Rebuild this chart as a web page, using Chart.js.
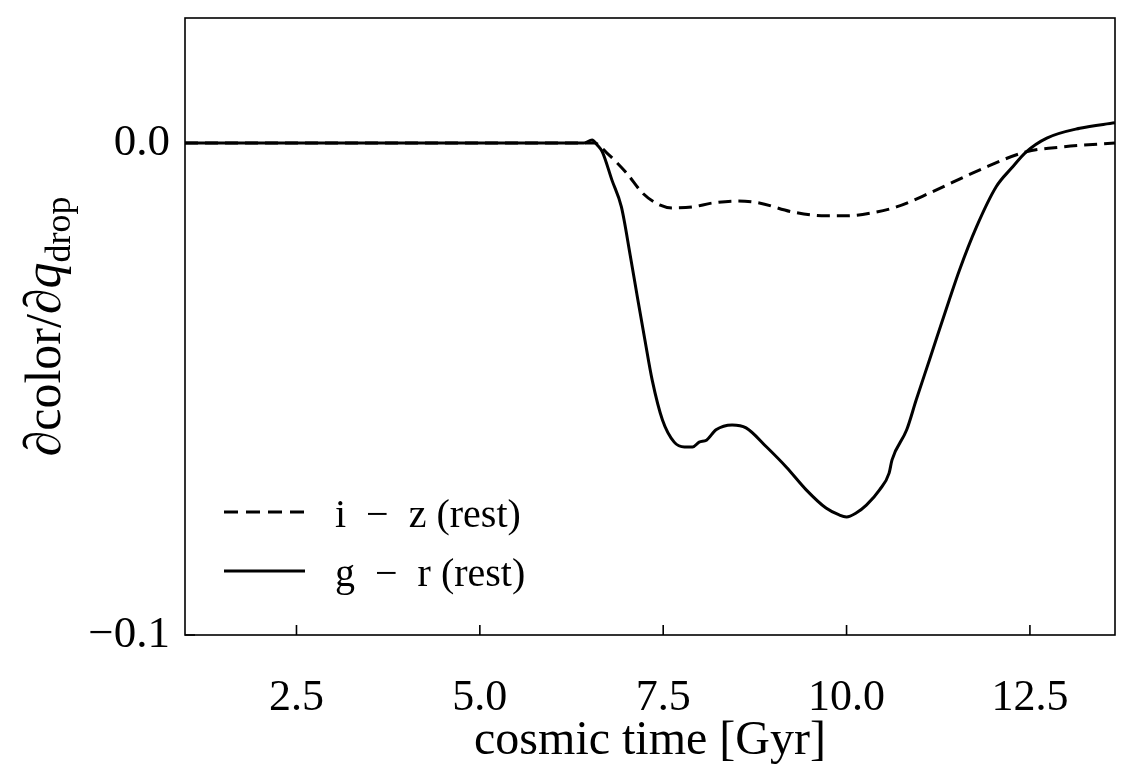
<!DOCTYPE html>
<html>
<head>
<meta charset="utf-8">
<script src="https://cdn.jsdelivr.net/npm/chart.js@4"></script>
<style>
  html, body { margin: 0; padding: 0; background: #fff; }
  canvas { display: block; }
</style>
</head>
<body>
<canvas id="colorChart" width="1136" height="770"></canvas>
<script>
// cosmic time [Gyr] and d(color)/d(q_drop)
const grTime = [0.98, 2.0, 3.0, 4.0, 5.0, 6.0, 6.42, 6.53, 6.60, 6.67, 6.80, 6.93, 7.05, 7.15, 7.25, 7.35, 7.49, 7.65, 7.79, 7.90, 7.99, 8.09, 8.22, 8.44, 8.63, 8.91, 9.18, 9.45, 9.72, 9.90, 10.0, 10.13, 10.27, 10.45, 10.58, 10.62, 10.82, 10.95, 11.13, 11.40, 11.54, 11.77, 12.04, 12.25, 12.45, 12.73, 13.18, 13.66];
const grValues = [0, 0, 0, 0, 0, 0, 0, 0.0006, -0.0004, -0.0018, -0.0075, -0.0130, -0.0228, -0.0315, -0.0400, -0.0482, -0.0563, -0.0608, -0.0618, -0.0618, -0.0608, -0.0604, -0.0583, -0.0573, -0.0579, -0.0618, -0.0659, -0.0705, -0.0742, -0.0756, -0.0760, -0.0752, -0.0736, -0.0705, -0.0671, -0.0644, -0.0583, -0.0522, -0.0441, -0.0319, -0.0258, -0.0171, -0.0089, -0.0051, -0.0018, 0.0010, 0.0030, 0.0041];

const izTime = [0.98, 3.0, 6.0, 6.56, 6.73, 7.0, 7.22, 7.45, 7.62, 7.90, 8.17, 8.50, 8.81, 9.26, 9.72, 10.0, 10.35, 10.68, 11.13, 11.81, 12.45, 12.94, 13.66];
const izValues = [0, 0, 0, 0, -0.0020, -0.0061, -0.0102, -0.0126, -0.0132, -0.0130, -0.0122, -0.0118, -0.0122, -0.0140, -0.0148, -0.0148, -0.0142, -0.0130, -0.0102, -0.0055, -0.0018, -0.0008, 0];

const xTicks = [2.5, 5.0, 7.5, 10.0, 12.5];
const yTicks = [-0.1, 0.0];
const seriesLabels = ['i \u2212 z (rest)', 'g \u2212 r (rest)'];

const serif = "'Liberation Serif', 'DejaVu Serif', serif";

const toPoints = (xs, ys) => xs.map((x, i) => ({ x: x, y: ys[i] }));

// frame + inward ticks, matplotlib style
const framePlugin = {
    id: 'frame',
    afterDatasetsDraw(chart) {
        const { ctx, chartArea: a, scales } = chart;
        ctx.save();
        ctx.strokeStyle = '#000';
        ctx.lineWidth = 1.6;
        ctx.strokeRect(a.left, a.top, a.right - a.left, a.bottom - a.top);
        ctx.beginPath();
        xTicks.forEach(v => {
            const px = scales.x.getPixelForValue(v);
            ctx.moveTo(px, a.bottom);
            ctx.lineTo(px, a.bottom - 10);
        });
        yTicks.forEach(v => {
            const py = scales.y.getPixelForValue(v);
            ctx.moveTo(a.left, py);
            ctx.lineTo(a.left + 10, py);
        });
        ctx.stroke();
        ctx.restore();
    }
};

// legend at lower left
const legendPlugin = {
    id: 'lineLegend',
    afterDatasetsDraw(chart) {
        const { ctx, chartArea: a } = chart;
        const rows = [a.top + 494, a.top + 553];
        ctx.save();
        ctx.strokeStyle = '#000';
        ctx.fillStyle = '#000';
        ctx.lineWidth = 3;
        ctx.font = '40px ' + serif;
        ctx.textBaseline = 'middle';
        chart.data.datasets.forEach((ds, i) => {
            ctx.beginPath();
            ctx.setLineDash(ds.borderDash ? [14, 8] : []);
            ctx.moveTo(a.left + 39, rows[i]);
            ctx.lineTo(a.left + 120, rows[i]);
            ctx.stroke();
            ctx.setLineDash([]);
            ctx.fillText(seriesLabels[i].replace(/ \u2212 /, '\u2002\u2212\u2002'), a.left + 150, rows[i] + 4);
        });
        ctx.restore();
    }
};

// y title with the subscript
const yTitlePlugin = {
    id: 'yTitle',
    afterDraw(chart) {
        const { ctx, chartArea: a } = chart;
        const parts = [
            { t: '\u2202', f: 'italic 52px ' + serif, dy: 0 },
            { t: 'color/', f: '50px ' + serif, dy: 0 },
            { t: '\u2202', f: 'italic 52px ' + serif, dy: 0 },
            { t: 'q', f: 'italic 52px ' + serif, dy: 0 },
            { t: 'drop', f: '36px ' + serif, dy: 10 }
        ];
        let total = 0;
        parts.forEach(p => { ctx.font = p.f; p.w = ctx.measureText(p.t).width; total += p.w; });
        ctx.save();
        ctx.translate(60, (a.top + a.bottom) / 2);
        ctx.rotate(-Math.PI / 2);
        ctx.fillStyle = '#000';
        ctx.textBaseline = 'alphabetic';
        let x = -total / 2;
        parts.forEach(p => {
            ctx.font = p.f;
            ctx.fillText(p.t, x, p.dy);
            x += p.w;
        });
        ctx.restore();
    }
};

document.addEventListener('DOMContentLoaded', () => {
    const ctx = document.getElementById('colorChart').getContext('2d');
    const colorChart = new Chart(ctx, {
        type: 'line',
        data: {
            datasets: [
                {
                    label: seriesLabels[0],
                    data: toPoints(izTime, izValues),
                    borderColor: '#000',
                    borderWidth: 3,
                    borderDash: [13, 7],
                    pointRadius: 0,
                    fill: false,
                    cubicInterpolationMode: 'monotone'
                },
                {
                    label: seriesLabels[1],
                    data: toPoints(grTime, grValues),
                    borderColor: '#000',
                    borderWidth: 3,
                    pointRadius: 0,
                    fill: false,
                    cubicInterpolationMode: 'monotone'
                }
            ]
        },
        options: {
            responsive: false,
            animation: false,
            devicePixelRatio: 1,
            layout: { padding: { top: 18, right: 21, left: 0, bottom: 0 } },
            plugins: {
                legend: { display: false },
                tooltip: { enabled: false }
            },
            scales: {
                x: {
                    type: 'linear',
                    min: 0.98,
                    max: 13.66,
                    afterBuildTicks: s => { s.ticks = xTicks.map(v => ({ value: v })); },
                    afterFit: s => { s.height = 135; s.paddingLeft = 0; s.paddingRight = 0; },
                    grid: { display: false, drawTicks: false },
                    border: { display: false },
                    ticks: {
                        color: '#000',
                        padding: 37,
                        font: { family: serif, size: 44 },
                        maxRotation: 0,
                        callback: v => v.toFixed(1)
                    },
                    title: {
                        display: true,
                        text: 'cosmic time [Gyr]',
                        color: '#000',
                        font: { family: serif, size: 48 },
                        padding: { top: 9, bottom: 0 }
                    }
                },
                y: {
                    min: -0.1,
                    max: 0.0254,
                    afterBuildTicks: s => { s.ticks = yTicks.map(v => ({ value: v })); },
                    afterFit: s => { s.width = 185; s.paddingTop = 0; s.paddingBottom = 0; },
                    grid: { display: false, drawTicks: false },
                    border: { display: false },
                    ticks: {
                        color: '#000',
                        padding: 15,
                        font: { family: serif, size: 45 },
                        callback: v => (v < 0 ? '\u2212' + Math.abs(v).toFixed(1) : v.toFixed(1))
                    }
                }
            }
        },
        plugins: [framePlugin, legendPlugin, yTitlePlugin]
    });
});
</script>
</body>
</html>
